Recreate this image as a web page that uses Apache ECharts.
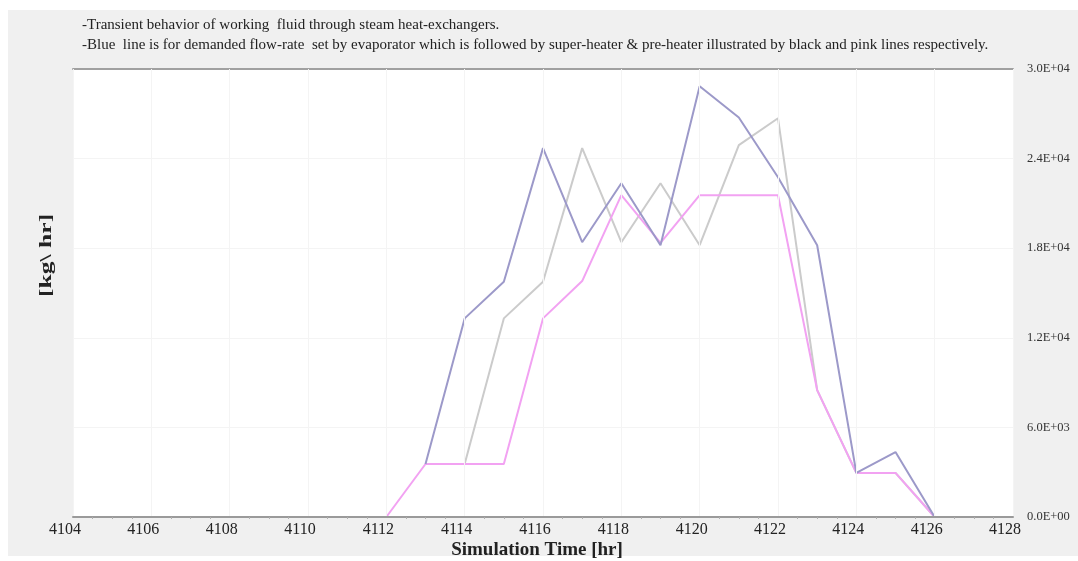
<!DOCTYPE html>
<html>
<head>
<meta charset="utf-8">
<style>
  html, body { margin: 0; padding: 0; background: #ffffff; }
  #panel { position: absolute; left: 8px; top: 10px; width: 1070px; height: 546px; background: #f0f0f0; }
  #chart { position: absolute; left: 0; top: 0; width: 1078px; height: 561px; }
</style>
<script src="https://cdn.jsdelivr.net/npm/echarts@6/dist/echarts.min.js"></script>
</head>
<body>
<div id="panel"></div>
<div id="chart"></div>
<script>
// Simulation hours
const hours = [4104, 4105, 4106, 4107, 4108, 4109, 4110, 4111, 4112, 4113, 4114, 4115, 4116,
               4117, 4118, 4119, 4120, 4121, 4122, 4123, 4124, 4125, 4126];
// Evaporator demanded flow-rate [kg/hr]
const evaporator = [null, null, null, null, null, null, null, null, null, 3550, 13300, 15750, 24700,
                    18400, 22350, 18200, 28850, 26750, 22750, 18200, 2950, 4350, 0];
// Super-heater flow-rate [kg/hr]
const superHeater = [null, null, null, null, null, null, null, null, null, 3550, 3550, 13300, 15750,
                     24700, 18400, 22350, 18200, 24900, 26700, 8500, 2950, 2950, 0];
// Pre-heater flow-rate [kg/hr]
const preHeater = [0, 0, 0, 0, 0, 0, 0, 0, 0, 3550, 3550, 3550, 13300,
                   15800, 21550, 18350, 21550, 21550, 21550, 8500, 2950, 2950, 0];

const noteLines = [
  '-Transient behavior of working  fluid through steam heat-exchangers.',
  '-Blue  line is for demanded flow-rate  set by evaporator which is followed by super-heater & pre-heater illustrated by black and pink lines respectively.'
];
const xName = 'Simulation Time [hr]';
const yName = '[kg\\ hr]';

const serif = '"Liberation Serif", "DejaVu Serif", serif';

function pairs(vals) {
  return hours.map((h, i) => [h, vals[i]]);
}

function sci(v) {
  if (v === 0) return '0.0E+00';
  const e = Math.floor(Math.log10(Math.abs(v)));
  const m = v / Math.pow(10, e);
  const es = (e < 0 ? '-' : '+') + String(Math.abs(e)).padStart(2, '0');
  return m.toFixed(1) + 'E' + es;
}

const chart = echarts.init(document.getElementById('chart'), null, { renderer: 'canvas' });

chart.setOption({
  backgroundColor: 'transparent',
  animation: false,
  title: {
    text: noteLines.join('\n'),
    left: 77,
    top: 10,
    textStyle: { fontFamily: serif, fontSize: 15, fontWeight: 'normal', color: '#222', lineHeight: 20 }
  },
  grid: {
    left: 73, right: 65, top: 69, bottom: 44,
    outerBoundsMode: 'none',
    containLabel: false,
    show: true, backgroundColor: '#ffffff', borderWidth: 0
  },
  graphic: [{
    // vertical unit label on the left, drawn tall and narrow, reading bottom-up
    type: 'text',
    x: 47,
    y: 297,
    rotation: Math.PI / 2,
    scaleX: 1.6,
    originX: 0,
    originY: 0,
    style: { text: yName, font: 'bold 16px ' + serif, fill: '#222', align: 'left', verticalAlign: 'middle' }
  }, {
    // time axis caption under the tick labels
    type: 'text',
    x: 537,
    y: 550,
    style: { text: xName, font: 'bold 19px ' + serif, fill: '#222', align: 'center', verticalAlign: 'middle' }
  }],
  xAxis: [{
    type: 'value',
    min: 4104, max: 4128, interval: 2,
    z: 3,
    axisLine: { show: true, lineStyle: { color: '#9a9a9a', width: 2 } },
    axisTick: { show: false },
    minorTick: { show: true, splitNumber: 4, length: 2, lineStyle: { color: '#b0b0b0' } },
    axisLabel: {
      fontFamily: serif, fontSize: 16, color: '#222', margin: 5, padding: [0, 16, 0, 0],
      formatter: v => String(v)
    },
    splitLine: { show: true, lineStyle: { color: '#f4f4f4', width: 1 } }
  }, {
    type: 'value',
    position: 'top',
    min: 4104, max: 4128, interval: 2,
    axisLine: { show: true, lineStyle: { color: '#a0a0a0', width: 2 } },
    axisTick: { show: false },
    axisLabel: { show: false },
    splitLine: { show: false }
  }],
  yAxis: {
    type: 'value',
    position: 'right',
    min: 0, max: 30000, interval: 6000,
    axisLine: { show: false },
    axisTick: { show: false },
    axisLabel: {
      fontFamily: serif, fontSize: 12.5, color: '#333', margin: 14,
      padding: [0, 0, 8, 0],
      formatter: sci
    },
    splitLine: { show: true, lineStyle: { color: '#f4f4f4', width: 1 } }
  },
  series: [{
    name: 'Super-heater',
    type: 'line',
    data: pairs(superHeater),
    showSymbol: false,
    lineStyle: { color: '#cbcbcb', width: 2 },
    z: 2
  }, {
    name: 'Pre-heater',
    type: 'line',
    data: pairs(preHeater),
    showSymbol: false,
    lineStyle: { color: '#f2a2f2', width: 2 },
    z: 2
  }, {
    name: 'Evaporator',
    type: 'line',
    data: pairs(evaporator),
    showSymbol: false,
    lineStyle: { color: '#9c99c9', width: 2 },
    z: 2
  }]
});
</script>
</body>
</html>
